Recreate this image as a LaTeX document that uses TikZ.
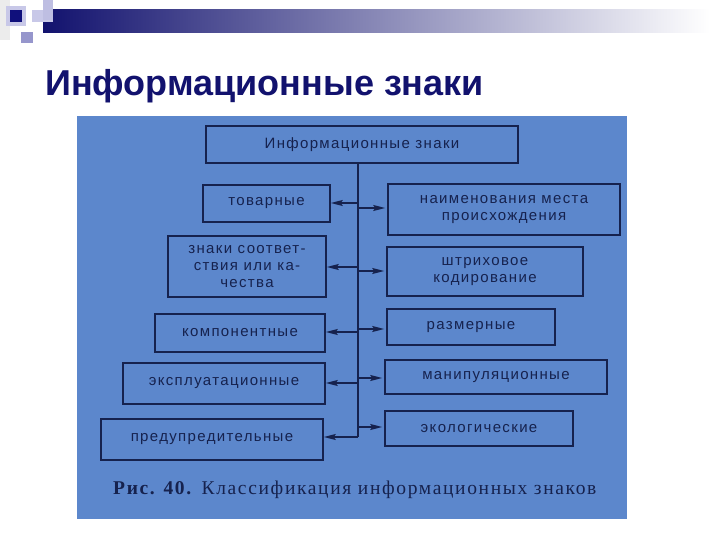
\documentclass[tikz,border=0pt]{standalone}
\usepackage{fontspec}
\setmainfont{Liberation Sans}
\newfontfamily\diagfont[LetterSpace=9]{Liberation Sans}
\newfontfamily\capfont[LetterSpace=8.5]{Liberation Serif}
\usetikzlibrary{arrows.meta}
\definecolor{navy}{RGB}{18,18,110}
\definecolor{photo}{RGB}{92,135,204}
\definecolor{ink}{RGB}{22,34,78}
\definecolor{lav}{RGB}{200,200,232}
\definecolor{lavm}{RGB}{150,150,204}
\tikzset{
  box/.style={draw=ink, line width=1.6pt, rectangle, inner sep=0pt, align=center,
    text=ink, font=\diagfont\fontsize{15}{17}\selectfont},
  conn/.style={draw=ink, line width=1.5pt},
  arr/.style={conn, -{Stealth[length=12pt,width=6pt,inset=2pt]}},
}
\begin{document}
\begin{tikzpicture}[x=1pt,y=-1pt]
\useasboundingbox (0,0) rectangle (720,540);
\fill[white] (0,0) rectangle (720,540);
% top decoration
\fill[left color=navy, right color=white] (43,10) rectangle (710,33);
\fill[gray!15] (0,0) rectangle (10,40);
\fill[lav] (6,6) rectangle (26,26);
\fill[navy!90!blue] (10,10) rectangle (22,22);
\fill[lav] (32,10) rectangle (53,22);
\fill[lav!80!lavm] (43,0) rectangle (53,20);
\fill[lavm] (21,32) rectangle (33,43);
% title
\node[anchor=base west, inner sep=0pt, text=navy, font=\bfseries\fontsize{36}{42}\selectfont] (title) at (45,96) {Информационные знаки};
% photo
\fill[photo] (77,116) rectangle (627,519);
% boxes
\node[box, minimum width=312pt, minimum height=37pt] (top) at (362,144.5) {Информационные знаки};
\node[box, minimum width=127pt, minimum height=37pt] (tov) at (266.5,203.5) {товарные};
\node[box, minimum width=232pt, minimum height=51pt] (naim) at (504,209.5) {наименования места\\происхождения};
\node[box, minimum width=158pt, minimum height=61pt] (znaki) at (247,266.5) {знаки соответ-\\ствия или ка-\\чества};
\node[box, minimum width=196pt, minimum height=49pt] (shtrih) at (485,271.5) {штриховое\\кодирование};
\node[box, minimum width=170pt, minimum height=38pt] (komp) at (240,333) {компонентные};
\node[box, minimum width=168pt, minimum height=36pt] (razm) at (471,327) {размерные};
\node[box, minimum width=202pt, minimum height=41pt] (expl) at (224,383.5) {эксплуатационные};
\node[box, minimum width=222pt, minimum height=34pt] (manip) at (496,377) {манипуляционные};
\node[box, minimum width=222pt, minimum height=41pt] (pred) at (212,439.5) {предупредительные};
\node[box, minimum width=188pt, minimum height=35pt] (ekol) at (479,428.5) {экологические};
% trunk coordinates
\coordinate (t0) at (top.south -| 358,0);
\coordinate (l1) at (358,203);
\coordinate (l2) at (358,267);
\coordinate (l3) at (358,332);
\coordinate (l4) at (358,383);
\coordinate (l5) at (358,437);
\coordinate (r1) at (358,208);
\coordinate (r2) at (358,271);
\coordinate (r3) at (358,329);
\coordinate (r4) at (358,378);
\coordinate (r5) at (358,427);
\draw[conn] (t0) -- (l5);
\draw[arr] (l1) -- (l1 -| tov.east);
\draw[arr] (l2) -- (l2 -| znaki.east);
\draw[arr] (l3) -- (l3 -| komp.east);
\draw[arr] (l4) -- (l4 -| expl.east);
\draw[arr] (l5) -- (l5 -| pred.east);
\draw[arr, shorten >=2pt] (r1) -- (r1 -| naim.west);
\draw[arr, shorten >=2pt] (r2) -- (r2 -| shtrih.west);
\draw[arr, shorten >=2pt] (r3) -- (r3 -| razm.west);
\draw[arr, shorten >=2pt] (r4) -- (r4 -| manip.west);
\draw[arr, shorten >=2pt] (r5) -- (r5 -| ekol.west);
% caption
\node[anchor=base west, inner sep=0pt, text=ink, font=\capfont\fontsize{19.5}{23}\selectfont] (cap) at (113,494) {\textbf{Рис. 40.} Классификация информационных знаков};
\end{tikzpicture}
\end{document}
